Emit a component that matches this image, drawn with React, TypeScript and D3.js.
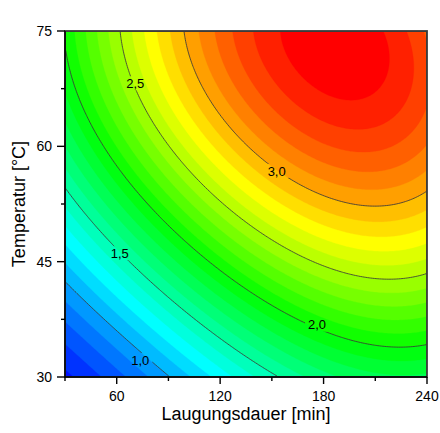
import React, { useRef, useEffect } from "react";
import * as d3 from "d3";

const width = 440;
const height = 433;
const margin = { top: 31, right: 13, bottom: 56, left: 65 };

// axes
const timeDomain = [30, 240];
const tempDomain = [30, 75];
const timeTicks = [60, 120, 180, 240];
const timeMinor = [30, 90, 150, 210];
const tempTicks = [30, 45, 60, 75];
const tempMinor = [37.5, 52.5, 67.5];

// readings: points on the drawn contour lines / band edges
const readTime = [
  30, 50.6, 73.7, 85.2,
  30, 40, 64, 96.8, 119.9, 157.4,
  30, 81.4, 119.9, 139.1, 176.5, 206.6, 239.3,
  61.7, 70.8, 119.9, 125.7, 158, 193.1, 239.3,
  100.7, 119.9, 137.2, 152.6, 208.5, 225, 239.3,
  109.5, 117, 125.7, 136.1, 150.5, 213.4, 225.6, 238.3,
  193.2, 183,
  30, 240, 30, 43.9, 56.5,
];
const readTemp = [
  41.6, 37.4, 32.5, 30,
  55, 51.7, 46.1, 40, 34.8, 30,
  71.6, 51.7, 43.9, 40.9, 36.8, 35, 34.2,
  75, 68.2, 53, 51.7, 45.8, 43.5, 43.05,
  75, 64.5, 59.8, 56.8, 52.4, 53.0, 54.2,
  75, 75, 75, 75, 75, 75, 75, 75,
  64.7, 72,
  30, 30, 75, 75, 75,
];
const readLevel = [
  1, 1, 1, 1,
  1.5, 1.5, 1.5, 1.5, 1.5, 1.5,
  2, 2, 2, 2, 2, 2, 2,
  2.5, 2.5, 2.5, 2.5, 2.5, 2.5, 2.5,
  3, 3, 3, 3, 3, 3, 3,
  3.1, 3.2, 3.3, 3.4, 3.5, 3.5, 3.4, 3.3,
  3.5, 3.58,
  0.52, 1.8, 2.05, 2.2, 2.4,
];

// contour lines and their labels
const lineLevels = [1.0, 1.5, 2.0, 2.5, 3.0];
const lineLabels = ["1,0", "1,5", "2,0", "2,5", "3,0"];
const labelTime = [73.7, 61.8, 176.2, 70.8, 152.8];
const labelTemp = [32.2, 46.1, 36.8, 68.2, 56.8];

// colour map
const colorStops = [0.5, 1.25, 2.0, 2.75, 3.55];
const colorRange = ["#0000ff", "#00ffff", "#00ff00", "#ffff00", "#ff0000"];

const font = "'Liberation Sans', Arial, sans-serif";

const basis = (t: number, T: number) => {
  const u = (t - 135) / 105;
  const v = (T - 52.5) / 22.5;
  return [1, u, v, u * u, u * v, v * v, u * u * u, u * u * v, u * v * v, v * v * v];
};

// least squares fit of a cubic surface through the readings
const fitSurface = () => {
  const n = 10;
  const M = Array.from({ length: n }, () => new Array(n + 1).fill(0));
  readTime.forEach((t, k) => {
    const r = basis(t, readTemp[k]);
    for (let i = 0; i < n; i++) {
      for (let j = 0; j < n; j++) M[i][j] += r[i] * r[j];
      M[i][n] += r[i] * readLevel[k];
    }
  });
  for (let c = 0; c < n; c++) {
    let p = c;
    for (let r = c + 1; r < n; r++) if (Math.abs(M[r][c]) > Math.abs(M[p][c])) p = r;
    [M[c], M[p]] = [M[p], M[c]];
    for (let r = 0; r < n; r++) {
      if (r === c) continue;
      const f = M[r][c] / M[c][c];
      for (let k = c; k <= n; k++) M[r][k] -= f * M[c][k];
    }
  }
  return M.map((row, i) => row[n] / row[i]);
};

const ContourChart = () => {
  const svgRef = useRef<SVGSVGElement>(null);

  useEffect(() => {
    const svg = d3.select(svgRef.current);
    svg.selectAll("*").remove();

    const x = d3.scaleLinear().domain(timeDomain).range([margin.left, width - margin.right]);
    const y = d3.scaleLinear().domain(tempDomain).range([height - margin.bottom, margin.top]);

    const coef = fitSurface();
    const surface = (t: number, T: number) =>
      d3.sum(basis(t, T), (b, i) => b * coef[i]);

    const nx = 210;
    const ny = 180;
    const values: number[] = new Array(nx * ny);
    for (let j = 0; j < ny; j++) {
      const T = tempDomain[0] + ((j + 0.5) * (tempDomain[1] - tempDomain[0])) / ny;
      for (let i = 0; i < nx; i++) {
        const t = timeDomain[0] + ((i + 0.5) * (timeDomain[1] - timeDomain[0])) / nx;
        values[j * nx + i] = surface(t, T);
      }
    }

    const gx = d3.scaleLinear().domain([0, nx]).range(timeDomain);
    const gy = d3.scaleLinear().domain([0, ny]).range(tempDomain);
    const path = d3.geoPath(
      d3.geoTransform({
        point: function (px: number, py: number) {
          this.stream.point(x(gx(px)), y(gy(py)));
        },
      })
    );

    const color = d3.scaleLinear<string>().domain(colorStops).range(colorRange).clamp(true);
    const bandLevels = d3.range(3, 37).map((k) => k / 10);

    const defs = svg.append("defs");
    defs
      .append("clipPath")
      .attr("id", "plotClip")
      .append("rect")
      .attr("x", x(timeDomain[0]))
      .attr("y", y(tempDomain[1]))
      .attr("width", x(timeDomain[1]) - x(timeDomain[0]))
      .attr("height", y(tempDomain[0]) - y(tempDomain[1]));

    const mask = defs.append("mask").attr("id", "labelMask");
    mask.append("rect").attr("width", width).attr("height", height).attr("fill", "white");
    lineLabels.forEach((l, i) => {
      mask
        .append("rect")
        .attr("x", x(labelTime[i]) - 12)
        .attr("y", y(labelTemp[i]) - 7)
        .attr("width", 24)
        .attr("height", 14)
        .attr("fill", "black");
    });

    const plot = svg.append("g").attr("clip-path", "url(#plotClip)");

    plot
      .append("rect")
      .attr("x", x(timeDomain[0]))
      .attr("y", y(tempDomain[1]))
      .attr("width", x(timeDomain[1]) - x(timeDomain[0]))
      .attr("height", y(tempDomain[0]) - y(tempDomain[1]))
      .attr("fill", color(0.3));

    const contours = d3.contours().size([nx, ny]).thresholds(bandLevels)(values);
    plot
      .append("g")
      .selectAll("path")
      .data(contours)
      .join("path")
      .attr("d", (d) => path(d))
      .attr("fill", (d) => color(d.value + 0.05))
      .attr("stroke", (d) => color(d.value + 0.05))
      .attr("stroke-width", 0.3);

    const lines = d3.contours().size([nx, ny]).thresholds(lineLevels)(values);
    plot
      .append("g")
      .attr("mask", "url(#labelMask)")
      .selectAll("path")
      .data(lines)
      .join("path")
      .attr("d", (d) => path(d))
      .attr("fill", "none")
      .attr("stroke", "#3a3a3a")
      .attr("stroke-width", 0.85);

    svg
      .append("g")
      .selectAll("text")
      .data(lineLabels)
      .join("text")
      .attr("x", (d, i) => x(labelTime[i]))
      .attr("y", (d, i) => y(labelTemp[i]))
      .attr("dy", "0.36em")
      .attr("text-anchor", "middle")
      .attr("font-family", font)
      .attr("font-size", 13)
      .attr("fill", "#000")
      .text((d) => d);

    // frame
    svg
      .append("rect")
      .attr("x", x(timeDomain[0]))
      .attr("y", y(tempDomain[1]))
      .attr("width", x(timeDomain[1]) - x(timeDomain[0]))
      .attr("height", y(tempDomain[0]) - y(tempDomain[1]))
      .attr("fill", "none")
      .attr("stroke", "#3c3c3c")
      .attr("stroke-width", 1.8);

    const axes = svg.append("g").attr("stroke", "#000").attr("stroke-width", 1.4);
    const y0 = y(tempDomain[0]);
    const x0 = x(timeDomain[0]);
    axes.append("line").attr("x1", x0).attr("x2", x(timeDomain[1])).attr("y1", y0).attr("y2", y0);
    axes.append("line").attr("x1", x0).attr("x2", x0).attr("y1", y0).attr("y2", y(tempDomain[1]));

    axes
      .selectAll(".xt")
      .data(timeTicks)
      .join("line")
      .attr("x1", (d) => x(d))
      .attr("x2", (d) => x(d))
      .attr("y1", y0)
      .attr("y2", y0 + 7);
    axes
      .selectAll(".xm")
      .data(timeMinor)
      .join("line")
      .attr("x1", (d) => x(d))
      .attr("x2", (d) => x(d))
      .attr("y1", y0)
      .attr("y2", y0 + 4);
    axes
      .selectAll(".yt")
      .data(tempTicks)
      .join("line")
      .attr("x1", x0 - 8)
      .attr("x2", x0)
      .attr("y1", (d) => y(d))
      .attr("y2", (d) => y(d));
    axes
      .selectAll(".ym")
      .data(tempMinor)
      .join("line")
      .attr("x1", x0 - 4)
      .attr("x2", x0)
      .attr("y1", (d) => y(d))
      .attr("y2", (d) => y(d));

    svg
      .append("g")
      .selectAll("text")
      .data(timeTicks)
      .join("text")
      .attr("x", (d) => x(d))
      .attr("y", y0 + 23.5)
      .attr("text-anchor", "middle")
      .attr("font-family", font)
      .attr("font-size", 14)
      .text((d) => d);

    svg
      .append("g")
      .selectAll("text")
      .data(tempTicks)
      .join("text")
      .attr("x", x0 - 13)
      .attr("y", (d) => y(d))
      .attr("dy", "0.36em")
      .attr("text-anchor", "end")
      .attr("font-family", font)
      .attr("font-size", 14)
      .text((d) => d);

    svg
      .append("text")
      .attr("x", (x(timeDomain[0]) + x(timeDomain[1])) / 2)
      .attr("y", 420)
      .attr("text-anchor", "middle")
      .attr("font-family", font)
      .attr("font-size", 18)
      .text("Laugungsdauer [min]");

    svg
      .append("text")
      .attr("transform", `translate(25,${(y(tempDomain[0]) + y(tempDomain[1])) / 2}) rotate(-90)`)
      .attr("text-anchor", "middle")
      .attr("font-family", font)
      .attr("font-size", 18)
      .text("Temperatur [°C]");
  }, []);

  return (
    <svg
      ref={svgRef}
      width={width}
      height={height}
      style={{ position: "absolute", left: 0, top: 0, background: "#fff" }}
    />
  );
};

export default function App() {
  return <ContourChart />;
}
